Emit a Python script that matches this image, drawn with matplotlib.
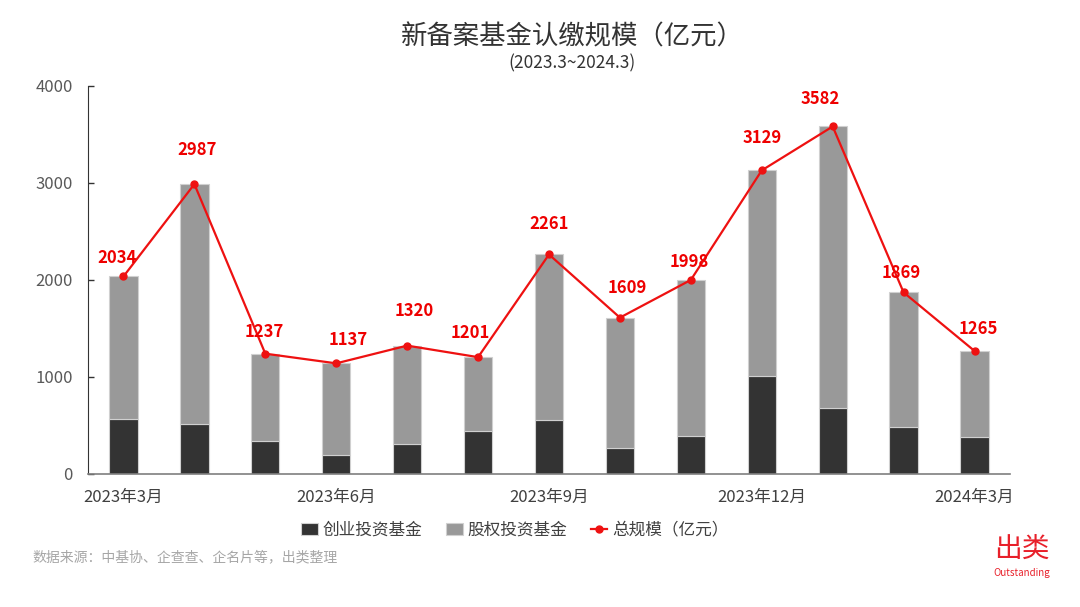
import matplotlib.pyplot as plt
import numpy as np

plt.rcParams["font.family"] = ["Noto Sans CJK SC", "DejaVu Sans"]

months = ["2023年3月", "2023年4月", "2023年5月", "2023年6月", "2023年7月", "2023年8月",
          "2023年9月", "2023年10月", "2023年11月", "2023年12月", "2024年1月", "2024年2月", "2024年3月"]
total = [2034, 2987, 1237, 1137, 1320, 1201, 2261, 1609, 1998, 3129, 3582, 1869, 1265]
venture = [565, 515, 333, 190, 300, 442, 553, 262, 392, 1005, 678, 485, 375]
equity = [t - v for t, v in zip(total, venture)]
tick_idx = [0, 3, 6, 9, 12]

# hand-placed label offsets (pixels) as in the source chart
label_dx = [-6, 3, -1, 12, 7, -8, 0, 7, -2, 0, -12, -2, 4]
label_dy = [18, 34, 22, 23, 35, 24, 30, 30, 18, 32, 27, 19, 22]

fig = plt.figure(figsize=(10.8, 6.07), dpi=100)
ax = fig.add_axes([88 / 1080, 1 - 473.5 / 607, (1010 - 88) / 1080, (473.5 - 86) / 607])

x = np.arange(len(months))
ax.bar(x, venture, width=0.4, color="#333333", edgecolor="#d0d0d0", linewidth=0.8,
       label="创业投资基金", zorder=2)
ax.bar(x, equity, width=0.4, bottom=venture, color="#999999", edgecolor="#d0d0d0",
       linewidth=0.8, label="股权投资基金", zorder=2)
ax.plot(x, total, color="#ee1111", linewidth=1.6, marker="o", markersize=5,
        label="总规模（亿元）", zorder=3)

for xi, t, dx, dy in zip(x, total, label_dx, label_dy):
    ax.annotate(str(t), (xi, t), xytext=(dx * 0.72, dy * 0.72), textcoords="offset points",
                ha="center", va="center", color="#ee0000", fontsize=12, fontweight="bold",
                zorder=4)

ax.set_xlim(-0.5, 12.5)
ax.set_ylim(0, 4000)
ax.set_yticks([0, 1000, 2000, 3000, 4000])
ax.set_xticks(tick_idx)
ax.set_xticklabels([months[i] for i in tick_idx])
ax.tick_params(axis="x", length=0, pad=11, labelsize=12, labelcolor="#404040")
ax.tick_params(axis="y", direction="in", length=4.5, width=1, color="#333333", pad=11,
               labelsize=12, labelcolor="#595959")
for s in ["top", "right"]:
    ax.spines[s].set_visible(False)
ax.spines["left"].set_color("#333333")
ax.spines["bottom"].set_color("#7f7f7f")
ax.spines["bottom"].set_linewidth(1.2)

fig.text(572 / 1080, 1 - 37 / 607, "新备案基金认缴规模（亿元）", ha="center", va="center",
         fontsize=19, color="#333333")
fig.text(572 / 1080, 1 - 63 / 607, "(2023.3~2024.3)", ha="center", va="center",
         fontsize=12.5, color="#333333")

handles, labels = ax.get_legend_handles_labels()
order = [1, 2, 0]
fig.legend([handles[i] for i in order], [labels[i] for i in order], loc="center",
           bbox_to_anchor=(515 / 1080, 1 - 530 / 607), ncol=3, frameon=False, fontsize=12,
           handlelength=1.0, handletextpad=0.3, columnspacing=1.4, labelcolor="#404040")

fig.text(32 / 1080, 1 - 557 / 607, "数据来源：中基协、企查查、企名片等，出类整理", ha="left",
         va="center", fontsize=10, color="#a6a6a6")
fig.text(1022 / 1080, 1 - 549 / 607, "出类", ha="center", va="center", fontsize=20,
         color="#e8202a")
fig.text(1022 / 1080, 1 - 573 / 607, "Outstanding", ha="center", va="center", fontsize=7,
         color="#e8202a")

fig.savefig("out.png", dpi=100)
